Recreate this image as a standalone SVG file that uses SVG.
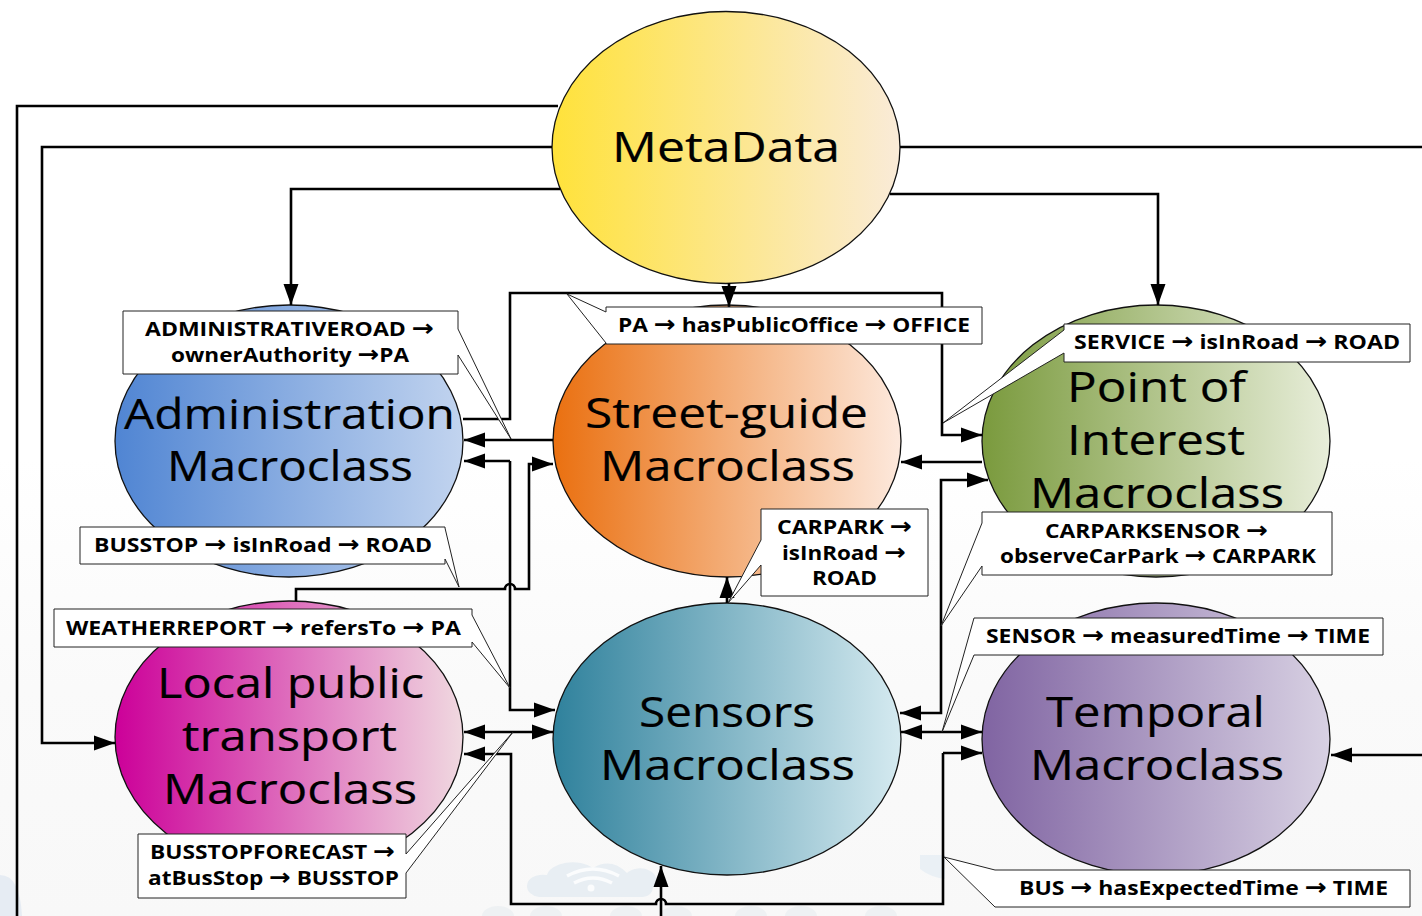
<svg xmlns="http://www.w3.org/2000/svg" width="1422" height="916" viewBox="0 0 1422 916">
<style>
.n{stroke:#111;stroke-width:1.3}
.big{font-family:"Open Sans","Noto Sans","Liberation Sans",sans-serif;font-size:42.500px;fill:#000;stroke:#000;stroke-width:.2}
.lab{font-family:"Open Sans","Noto Sans","Liberation Sans",sans-serif;font-size:20px;font-weight:700;fill:#000}
.ar{font-family:"DejaVu Sans",sans-serif;font-size:23px;font-weight:700}
.c{fill:none;stroke:#000;stroke-width:2.6}
.a{marker-end:url(#ah)}
.b{marker-start:url(#ah);marker-end:url(#ah)}
.box{fill:#fff;stroke:#222;stroke-width:1}
.wm{fill:#eef1f3}
</style>
<defs>
<marker id="ah" markerUnits="userSpaceOnUse" markerWidth="24" markerHeight="18" refX="21" refY="8" orient="auto-start-reverse" viewBox="0 0 24 16"><path d="M0 0.500L21 8L0 15.500Z" fill="#000"/></marker>
<linearGradient id="g1"><stop offset="0" stop-color="#FFE23A"/><stop offset="1" stop-color="#FAEBD8"/></linearGradient>
<linearGradient id="g2"><stop offset="0" stop-color="#5085D3"/><stop offset="1" stop-color="#C2D4EF"/></linearGradient>
<linearGradient id="g3"><stop offset="0" stop-color="#EA7010"/><stop offset="1" stop-color="#FDE9DD"/></linearGradient>
<linearGradient id="g4"><stop offset="0" stop-color="#7A9A3D"/><stop offset="1" stop-color="#E8EEDA"/></linearGradient>
<linearGradient id="g5"><stop offset="0" stop-color="#CC0099"/><stop offset="1" stop-color="#F0D9E0"/></linearGradient>
<linearGradient id="g6"><stop offset="0" stop-color="#2F819C"/><stop offset="1" stop-color="#D5EAF0"/></linearGradient>
<linearGradient id="g7"><stop offset="0" stop-color="#8064A2"/><stop offset="1" stop-color="#D8D1E3"/></linearGradient>
<linearGradient id="bg" x1="0" y1="0" x2="0" y2="1"><stop offset="0" stop-color="#fff"/><stop offset=".5" stop-color="#fff"/><stop offset=".75" stop-color="#fafafa"/><stop offset="1" stop-color="#f8f8f8"/></linearGradient>
</defs>
<rect width="1422" height="916" fill="url(#bg)"/>
<g id="watermark">
<path d="M527 886a16 11 0 0 1 20-11a26 15 0 0 1 46-7q18-11 34 5a14 10 0 0 1 26 14a10 10 0 0 1-10 10h-104a14 11 0 0 1-12-11Z" fill="#e8eef3"/>
<path d="M567 876q26-14 52 0M574 883q19-10 38 0" fill="none" stroke="#fbfcfd" stroke-width="3.500"/><circle cx="591" cy="888" r="3.500" fill="#fbfcfd"/>
<path d="M920 855h25v24q-15-2-25-10Z" fill="#eaf0f5"/>
<path d="M0 875q20 0 22 41h-22Z" fill="#e6ecf3"/>
<path d="M482 916a16 10 0 0 1 32 0ZM530 916a16 10 0 0 1 32 0ZM610 916a16 10 0 0 1 32 0ZM660 916a16 10 0 0 1 32 0ZM735 916a16 10 0 0 1 32 0ZM785 916a16 10 0 0 1 32 0ZM865 916a16 10 0 0 1 32 0Z" class="wm"/>
</g>

<g id="node-metadata"><ellipse class="n" cx="726" cy="147.500" rx="174" ry="136" fill="url(#g1)"/><text class="big" x="612" y="162" textLength="228" lengthAdjust="spacingAndGlyphs">MetaData</text></g>
<g id="node-administration"><ellipse class="n" cx="289" cy="441" rx="174" ry="136" fill="url(#g2)"/><text class="big" x="124" y="429" textLength="331" lengthAdjust="spacingAndGlyphs">Administration</text><text class="big" x="167" y="481" textLength="246" lengthAdjust="spacingAndGlyphs">Macroclass</text></g>
<g id="node-streetguide"><ellipse class="n" cx="727" cy="441" rx="174" ry="136" fill="url(#g3)"/><text class="big" x="585" y="428" textLength="283" lengthAdjust="spacingAndGlyphs">Street-guide</text><text class="big" x="600" y="481" textLength="255" lengthAdjust="spacingAndGlyphs">Macroclass</text></g>
<g id="node-poi"><ellipse class="n" cx="1156" cy="441" rx="174" ry="136" fill="url(#g4)"/><text class="big" x="1067" y="402" textLength="179" lengthAdjust="spacingAndGlyphs">Point of</text><text class="big" x="1067" y="455" textLength="178" lengthAdjust="spacingAndGlyphs">Interest</text><text class="big" x="1030" y="508" textLength="254" lengthAdjust="spacingAndGlyphs">Macroclass</text></g>
<g id="node-local"><ellipse class="n" cx="289" cy="737" rx="174" ry="136" fill="url(#g5)"/><text class="big" x="157" y="698" textLength="267" lengthAdjust="spacingAndGlyphs">Local public</text><text class="big" x="182" y="751" textLength="215" lengthAdjust="spacingAndGlyphs">transport</text><text class="big" x="163" y="804" textLength="254" lengthAdjust="spacingAndGlyphs">Macroclass</text></g>
<g id="node-sensors"><ellipse class="n" cx="727" cy="739" rx="174" ry="136" fill="url(#g6)"/><text class="big" x="639" y="727" textLength="176" lengthAdjust="spacingAndGlyphs">Sensors</text><text class="big" x="600" y="780" textLength="255" lengthAdjust="spacingAndGlyphs">Macroclass</text></g>
<g id="node-temporal"><ellipse class="n" cx="1156" cy="739" rx="174" ry="136" fill="url(#g7)"/><text class="big" x="1046" y="727" textLength="219" lengthAdjust="spacingAndGlyphs">Temporal</text><text class="big" x="1030" y="780" textLength="254" lengthAdjust="spacingAndGlyphs">Macroclass</text></g>

<g id="connectors">
<path class="c" d="M558 106H17V916"/>
<path class="c a" d="M552 147H42V743H115"/>
<path class="c a" d="M560 189H291V305"/>
<path class="c" d="M900 147H1422"/>
<path class="c a" d="M890 194H1158V305"/>
<path class="c a" d="M729 283V307"/>
<path class="c a" d="M463 419H510V293H942V435H982"/>
<path class="c a" d="M553 440H464"/>
<path class="c a" d="M510 461H464"/>
<path class="c a" d="M510 461V710H555"/>
<path class="c a" d="M296 601V589H505A5 5 0 0 1 515 589H529V464H553"/>
<path class="c a" d="M982 462H901"/>
<path class="c b" d="M988 480H941V713H900"/>
<path class="c a" d="M727 603V577"/>
<path class="c b" d="M464 732H553"/>
<path class="c b" d="M901 732H982"/>
<path class="c a" d="M943 753H982"/>
<path class="c a" d="M943 753V904H666A5 5 0 0 0 656 904H511V754H464"/>
<path class="c a" d="M661 916V866"/>
<path class="c a" d="M1422 755H1331"/>
</g>

<g id="label-adminroad"><polygon class="box" points="123,311 458,311 458,329 511,439 458,355 458,374 123,374"/><text class="lab" x="145" y="336" textLength="289" lengthAdjust="spacingAndGlyphs">ADMINISTRATIVEROAD <tspan class="ar">→</tspan></text><text class="lab" x="171" y="362" textLength="238" lengthAdjust="spacingAndGlyphs">ownerAuthority <tspan class="ar">→</tspan>PA</text></g>
<g id="label-busstop"><polygon class="box" points="80,527 445,527 445,528 459,587 445,559 445,564 80,564"/><text class="lab" x="94" y="552" textLength="338" lengthAdjust="spacingAndGlyphs">BUSSTOP <tspan class="ar">→</tspan> isInRoad <tspan class="ar">→</tspan> ROAD</text></g>
<g id="label-pa"><polygon class="box" points="606,307 982,307 982,344 606,344 606,343 567,294 606,312"/><text class="lab" x="618" y="332" textLength="352" lengthAdjust="spacingAndGlyphs">PA <tspan class="ar">→</tspan> hasPublicOffice <tspan class="ar">→</tspan> OFFICE</text></g>
<g id="label-service"><polygon class="box" points="1064,324 1410,324 1410,362 1064,362 1064,353 943,423 1064,330"/><text class="lab" x="1074" y="349" textLength="326" lengthAdjust="spacingAndGlyphs">SERVICE <tspan class="ar">→</tspan> isInRoad <tspan class="ar">→</tspan> ROAD</text></g>
<g id="label-carpark"><polygon class="box" points="761,509 928,509 928,596 761,596 761,565 728,603 761,540"/><text class="lab" x="777" y="534" textLength="135" lengthAdjust="spacingAndGlyphs">CARPARK <tspan class="ar">→</tspan></text><text class="lab" x="782" y="560" textLength="124" lengthAdjust="spacingAndGlyphs">isInRoad <tspan class="ar">→</tspan></text><text class="lab" x="812" y="585" textLength="65" lengthAdjust="spacingAndGlyphs">ROAD</text></g>
<g id="label-carparksensor"><polygon class="box" points="982,512 1332,512 1332,575 982,575 982,566 941,626 982,523"/><text class="lab" x="1045" y="538" textLength="223" lengthAdjust="spacingAndGlyphs">CARPARKSENSOR <tspan class="ar">→</tspan></text><text class="lab" x="1000" y="563" textLength="316" lengthAdjust="spacingAndGlyphs">observeCarPark <tspan class="ar">→</tspan> CARPARK</text></g>
<g id="label-sensor"><polygon class="box" points="974,618 1383,618 1383,655 974,655 942,732"/><text class="lab" x="986" y="643" textLength="384" lengthAdjust="spacingAndGlyphs">SENSOR <tspan class="ar">→</tspan> measuredTime <tspan class="ar">→</tspan> TIME</text></g>
<g id="label-bus"><polygon class="box" points="995,870 1410,870 1410,907 995,907 944,857"/><text class="lab" x="1019" y="895" textLength="369" lengthAdjust="spacingAndGlyphs">BUS <tspan class="ar">→</tspan> hasExpectedTime <tspan class="ar">→</tspan> TIME</text></g>
<g id="label-weather"><polygon class="box" points="54,609 472,609 472,615 510,688 472,642 472,647 54,647"/><text class="lab" x="66" y="635" textLength="395" lengthAdjust="spacingAndGlyphs">WEATHERREPORT <tspan class="ar">→</tspan> refersTo <tspan class="ar">→</tspan> PA</text></g>
<g id="label-forecast"><polygon class="box" points="138,834 406,834 406,854 513,732 406,873 406,898 138,898"/><text class="lab" x="150" y="859" textLength="245" lengthAdjust="spacingAndGlyphs">BUSSTOPFORECAST <tspan class="ar">→</tspan></text><text class="lab" x="148" y="885" textLength="251" lengthAdjust="spacingAndGlyphs">atBusStop <tspan class="ar">→</tspan> BUSSTOP</text></g>
</svg>
